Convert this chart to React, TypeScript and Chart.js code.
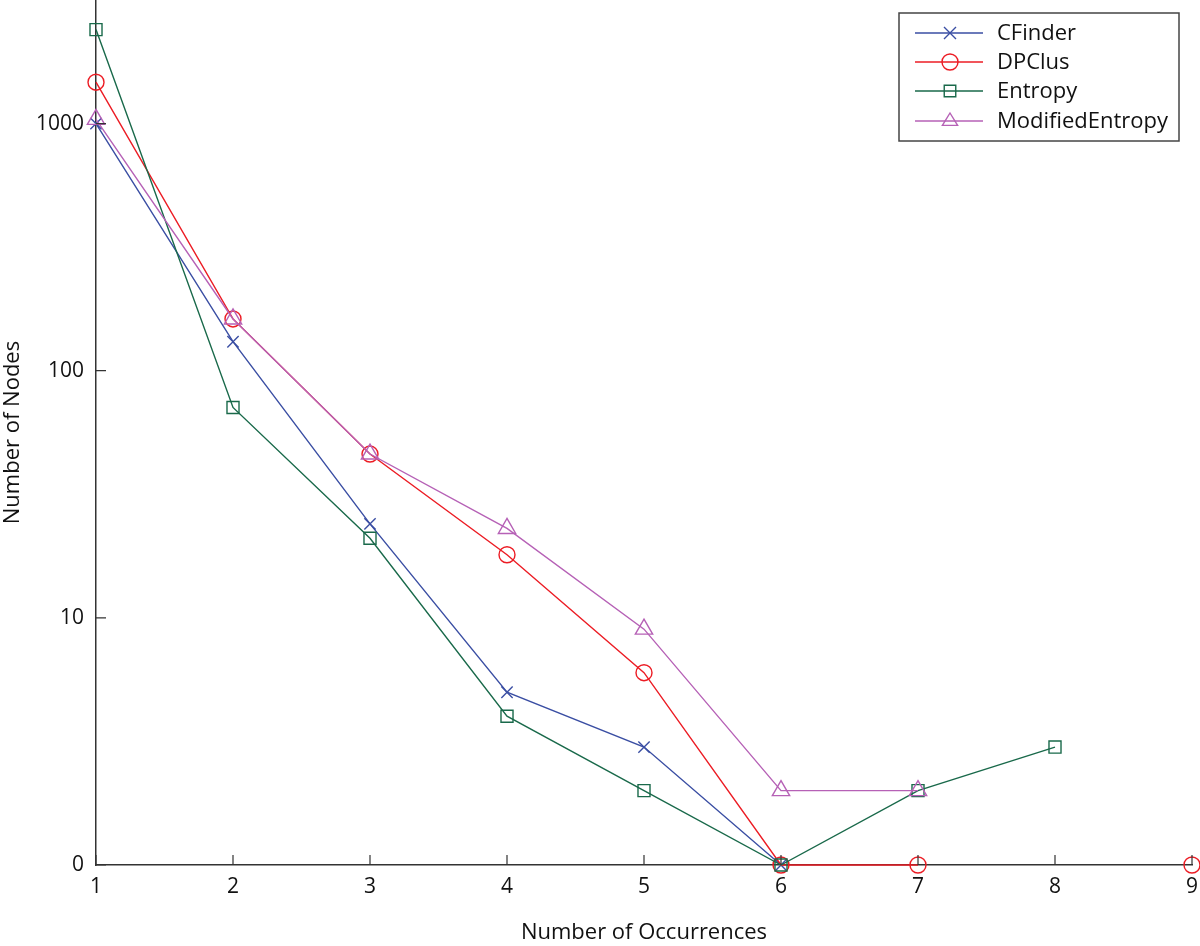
import React, { useEffect, useRef } from "react";
import { Chart, registerables } from "chart.js";

Chart.register(...registerables);

const xLabels = ["1", "2", "3", "4", "5", "6", "7", "8", "9"];
const seriesNames = ["CFinder", "DPClus", "Entropy", "ModifiedEntropy"];
const cfinder = [1000, 131, 24, 5, 3, 1, null, null, null];
const dpclus = [1470, 162, 46, 18, 6, 1, 1, null, 1];
const entropy = [2400, 71, 21, 4, 2, 1, 2, 3, null];
const modifiedEntropy = [1040, 162, 46, 23, 9, 2, 2, null, null];
const seriesColors = ["#3a4ea3", "#ec1c24", "#19694a", "#b661b6"];
const seriesMarkers = ["crossRot", "circle", "rect", "triangle"];
const yTickValues = [1, 10, 100, 1000];
const yTickLabels = ["0", "10", "100", "1000"];
const yMin = 1;
const yMax = 3162;
const xTitle = "Number of Occurrences";
const yTitle = "Number of Nodes";

const FONT = "'Open Sans', sans-serif";
const AXIS = "#333333";

function drawMarker(ctx: CanvasRenderingContext2D, style: string, x: number, y: number, r: number) {
  ctx.beginPath();
  if (style === "crossRot") {
    const s = r * 0.75;
    ctx.moveTo(x - s, y - s);
    ctx.lineTo(x + s, y + s);
    ctx.moveTo(x - s, y + s);
    ctx.lineTo(x + s, y - s);
  } else if (style === "circle") {
    ctx.arc(x, y, r, 0, Math.PI * 2);
  } else if (style === "rect") {
    const s = r * 0.72;
    ctx.rect(x - s, y - s, 2 * s, 2 * s);
  } else if (style === "triangle") {
    ctx.moveTo(x, y - r);
    ctx.lineTo(x + r * 0.95, y + r * 0.55);
    ctx.lineTo(x - r * 0.95, y + r * 0.55);
    ctx.closePath();
  }
  ctx.stroke();
}

const overlay = {
  id: "overlay",
  afterDraw(chart: any) {
    const ctx = chart.ctx as CanvasRenderingContext2D;
    const xs = chart.scales.x;
    const ys = chart.scales.y;
    const area = chart.chartArea;
    ctx.save();
    // inward ticks
    ctx.strokeStyle = AXIS;
    ctx.lineWidth = 1.2;
    ctx.beginPath();
    for (let i = 0; i < xLabels.length; i++) {
      const px = xs.getPixelForValue(i);
      ctx.moveTo(px, area.bottom);
      ctx.lineTo(px, area.bottom - 10);
    }
    for (const v of yTickValues) {
      const py = ys.getPixelForValue(v);
      ctx.moveTo(area.left, py);
      ctx.lineTo(area.left + 10, py);
    }
    ctx.stroke();

    // axis titles
    ctx.fillStyle = "#111";
    ctx.font = `22px ${FONT}`;
    ctx.textAlign = "center";
    ctx.textBaseline = "middle";
    ctx.fillText(xTitle, (area.left + area.right) / 2, 933);
    ctx.save();
    ctx.translate(13, (area.top + area.bottom) / 2);
    ctx.rotate(-Math.PI / 2);
    ctx.fillText(yTitle, 0, 0);
    ctx.restore();

    // legend
    const bx = 899, by = 13, bw = 280, bh = 128;
    ctx.fillStyle = "#fff";
    ctx.fillRect(bx, by, bw, bh);
    ctx.strokeStyle = "#444";
    ctx.lineWidth = 1.5;
    ctx.strokeRect(bx, by, bw, bh);
    const rows = [33, 62, 91, 121];
    ctx.font = `22px ${FONT}`;
    ctx.textAlign = "left";
    for (let i = 0; i < seriesNames.length; i++) {
      const yy = rows[i];
      ctx.strokeStyle = seriesColors[i];
      ctx.lineWidth = 1.4;
      ctx.beginPath();
      ctx.moveTo(915, yy);
      ctx.lineTo(983, yy);
      ctx.stroke();
      drawMarker(ctx, seriesMarkers[i], 950, yy, 8);
      ctx.fillStyle = "#111";
      ctx.fillText(seriesNames[i], 997, yy + 1);
    }
    ctx.restore();
  },
};

export default function App() {
  const ref = useRef<HTMLCanvasElement | null>(null);
  useEffect(() => {
    document.body.style.margin = "0";
    const all = [cfinder, dpclus, entropy, modifiedEntropy];
    const chart = new Chart(ref.current as HTMLCanvasElement, {
      type: "line",
      data: {
        labels: xLabels,
        datasets: all.map((d, i) => ({
          label: seriesNames[i],
          data: d,
          borderColor: seriesColors[i],
          backgroundColor: "transparent",
          borderWidth: 1.4,
          pointStyle: seriesMarkers[i] as any,
          pointRadius: seriesMarkers[i] === "triangle" ? 10 : seriesMarkers[i] === "rect" ? 8.5 : 8,
          pointBorderColor: seriesColors[i],
          pointBackgroundColor: "transparent",
          pointBorderWidth: 1.4,
          tension: 0,
          spanGaps: false,
          clip: false as any,
          order: 3 - i,
        })),
      },
      options: {
        animation: false,
        responsive: false,
        events: [],
        layout: { autoPadding: false, padding: { left: 0, right: 8, top: 0, bottom: 0 } },
        plugins: { legend: { display: false }, tooltip: { enabled: false } },
        scales: {
          x: {
            type: "category",
            offset: false,
            grid: { drawOnChartArea: false, drawTicks: false },
            border: { display: true, color: AXIS, width: 1.5 },
            ticks: { color: "#111", font: { family: FONT, size: 21 }, padding: 9, maxRotation: 0, autoSkip: false },
            afterFit: (s: any) => {
              s.height = 81;
              s.paddingLeft = 0;
              s.paddingRight = 0;
            },
          },
          y: {
            type: "logarithmic",
            min: yMin,
            max: yMax,
            grid: { drawOnChartArea: false, drawTicks: false },
            border: { display: true, color: AXIS, width: 1.5 },
            afterBuildTicks: (s: any) => {
              s.ticks = yTickValues.map((v) => ({ value: v }));
            },
            ticks: {
              color: "#111",
              font: { family: FONT, size: 21 },
              padding: 12,
              callback: (v: any) => {
                const idx = yTickValues.indexOf(Number(v));
                return idx >= 0 ? yTickLabels[idx] : "";
              },
            },
            afterFit: (s: any) => {
              s.width = 96;
              s.paddingTop = 0;
              s.paddingBottom = 0;
            },
          },
        },
      },
      plugins: [overlay],
    });
    return () => chart.destroy();
  }, []);
  return <canvas ref={ref} width={1200} height={946} style={{ display: "block" }} />;
}
